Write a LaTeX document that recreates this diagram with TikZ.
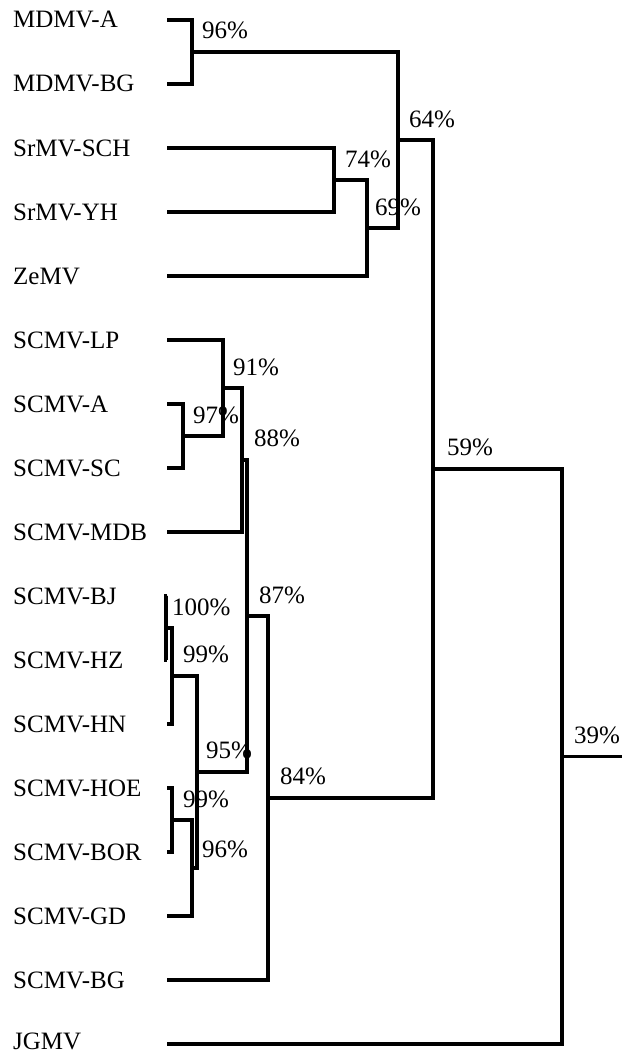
\documentclass[tikz,border=0pt]{standalone}
\usepackage{fontspec}
\setmainfont{Liberation Serif}
\begin{document}
\begin{tikzpicture}[x=1pt,y=-1pt,
  br/.style={line width=3.2pt},
  lbl/.style={anchor=base west, inner sep=0pt, font=\fontsize{25}{29}\selectfont}]
\useasboundingbox[fill=white] (0,0) rectangle (622,1054);
% leaves
\foreach \i/\t in {1/MDMV-A,2/MDMV-BG,3/SrMV-SCH,4/SrMV-YH,5/ZeMV,6/SCMV-LP,7/SCMV-A,8/SCMV-SC,9/SCMV-MDB,10/SCMV-BJ,11/SCMV-HZ,12/SCMV-HN,13/SCMV-HOE,14/SCMV-BOR,15/SCMV-GD,16/SCMV-BG}{
  \node[lbl] (t\i) at ({13},{28+64*(\i-1)}) {\t};
  \coordinate (a\i) at ({167},{20+64*(\i-1)});
}
\node[lbl] (t17) at (13,1049) {JGMV};
\coordinate (a17) at (167,1044);
% internal nodes
\coordinate (n96) at (192,52);
\coordinate (n74) at (334,180);
\coordinate (n69) at (367,228);
\coordinate (n64) at (398,140);
\coordinate (n97) at (183,436);
\coordinate (n91) at (223,388);
\coordinate (n88) at (242,460);
\coordinate (n100) at (166,628);
\coordinate (n99a) at (172,676);
\coordinate (n99b) at (172,820);
\coordinate (n96b) at (192,868);
\coordinate (n95) at (197,772);
\coordinate (n87) at (247,616);
\coordinate (n84) at (268,798);
\coordinate (n59) at (433,469);
\coordinate (n39) at (562,756.5);
\coordinate (rootend) at (622,756.5);
% branches
\draw[br] (a1) -| (n96) |- (a2);
\draw[br] (a3) -| (n74) |- (a4);
\draw[br] (n74) -| (n69) |- (a5);
\draw[br] (n96) -| (n64) |- (n69);
\draw[br] (a7) -| (n97) |- (a8);
\draw[br] (a6) -| (n91) |- (n97);
\draw[br] (n91) -| (n88) |- (a9);
\draw[br] (a10) -| (n100) |- (a11);
\draw[br] (n100) -| (n99a) |- (a12);
\draw[br] (a13) -| (n99b) |- (a14);
\draw[br] (n99b) -| (n96b) |- (a15);
\draw[br] (n99a) -| (n95) |- (n96b);
\draw[br] (n88) -| (n87) |- (n95);
\draw[br] (n87) -| (n84) |- (a16);
\draw[br] (n64) -| (n59) |- (n84);
\draw[br] (n59) -| (n39) |- (a17);
\draw[br] (n39) -- (rootend);
% support values
\node[lbl] (p96) at (202,39) {96\%};
\node[lbl] (p64) at (409,128) {64\%};
\node[lbl] (p74) at (345,167) {74\%};
\node[lbl] (p69) at (375,215) {69\%};
\node[lbl] (p59) at (447,455) {59\%};
\node[lbl] (p39) at (574,743) {39\%};
\node[lbl] (p84) at (280,784) {84\%};
\node[lbl] (p91) at (233,375) {91\%};
\node[lbl] (p97) at (193,423) {97\%};
\node[lbl] (p88) at (254,446) {88\%};
\node[lbl] (p87) at (259,603) {87\%};
\node[lbl] (p100) at (172,615) {100\%};
\node[lbl] (p99a) at (183,662) {99\%};
\node[lbl] (p95) at (206,758) {95\%};
\node[lbl] (p99b) at (183,807) {99\%};
\node[lbl] (p96b) at (202,857) {96\%};
\end{tikzpicture}
\end{document}
